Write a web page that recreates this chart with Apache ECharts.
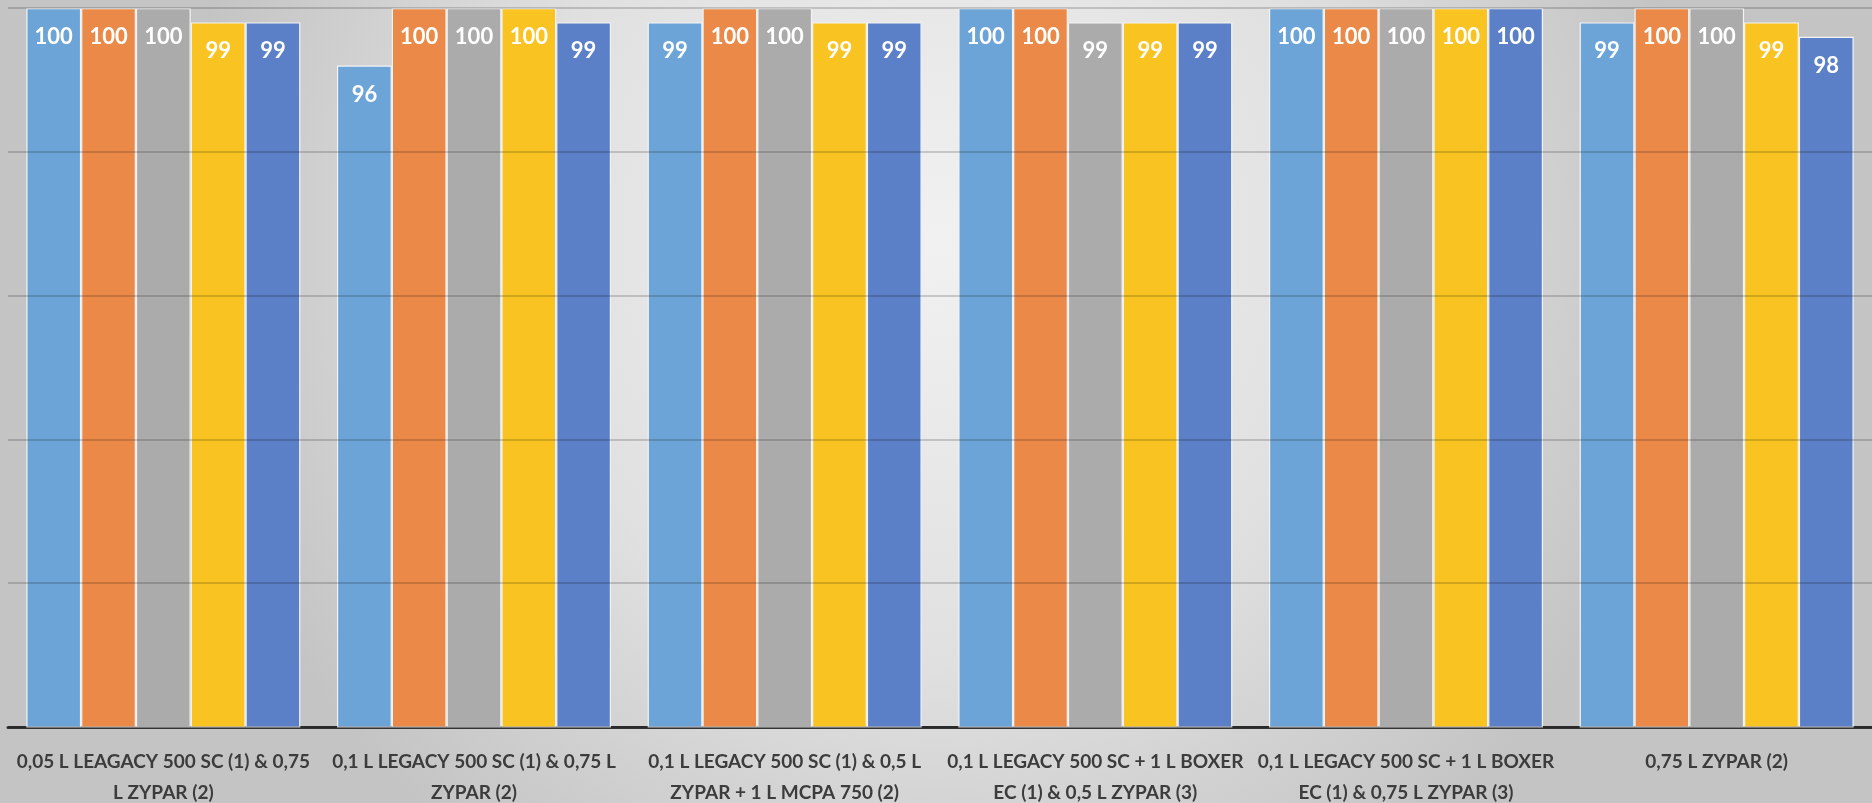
<!DOCTYPE html>
<html>
<head>
<meta charset="utf-8">
<script src="https://cdn.jsdelivr.net/npm/echarts@6/dist/echarts.min.js"></script>
<style>
html,body{margin:0;padding:0;width:1872px;height:803px;overflow:hidden;}
#chart{width:1872px;height:803px;}
</style>
</head>
<body>
<div id="chart"></div>
<script>
const categories = [
  "0,05 L LEAGACY 500 SC (1) & 0,75\nL ZYPAR (2)",
  "0,1 L LEGACY 500 SC (1) & 0,75 L\nZYPAR (2)",
  "0,1 L LEGACY 500 SC (1) & 0,5 L\nZYPAR + 1 L MCPA 750 (2)",
  "0,1 L LEGACY 500 SC + 1 L BOXER\nEC (1) & 0,5 L ZYPAR (3)",
  "0,1 L LEGACY 500 SC + 1 L BOXER\nEC (1) & 0,75 L ZYPAR (3)",
  "0,75 L ZYPAR (2)"
];
const seriesNames = ["Series 1", "Series 2", "Series 3", "Series 4", "Series 5"];
const series1 = [100, 96, 99, 100, 100, 99];
const series2 = [100, 100, 100, 100, 100, 100];
const series3 = [100, 100, 100, 99, 100, 100];
const series4 = [99, 100, 99, 99, 100, 99];
const series5 = [99, 99, 99, 99, 100, 98];
const colors = ["#6ca4d8", "#eb8a48", "#ababab", "#f9c322", "#5b80c7"];

const allValues = [series1, series2, series3, series4, series5];

const chart = echarts.init(document.getElementById('chart'));
chart.setOption({
  backgroundColor: {
    type: 'radial', x: 0.5, y: 0.3, r: 0.95,
    colorStops: [
      {offset: 0, color: '#f1f1f1'},
      {offset: 0.55, color: '#e0e0e0'},
      {offset: 1, color: '#c4c4c4'}
    ]
  },
  animation: false,
  grid: {left: 8, right: 0, top: 8, bottom: 76, containLabel: false, outerBoundsMode: 'none'},
  xAxis: {
    type: 'category',
    data: categories,
    axisLine: {show: true, lineStyle: {color: '#333333', width: 3}},
    axisTick: {show: false},
    axisLabel: {
      interval: 0,
      margin: 19,
      color: '#3c3c3c',
      fontFamily: 'Lato, "Liberation Sans", sans-serif',
      fontWeight: 'bold',
      fontSize: 19,
      lineHeight: 31
    }
  },
  yAxis: {
    type: 'value',
    min: 50, max: 100, interval: 10,
    z: 3,
    axisLine: {show: false},
    axisTick: {show: false},
    axisLabel: {show: false},
    splitLine: {show: true, lineStyle: {color: 'rgba(0,0,0,0.22)', width: 1.5}}
  },
  series: allValues.map((vals, i) => ({
    name: seriesNames[i],
    type: 'bar',
    data: vals,
    barGap: '0%',
    barCategoryGap: '11.8%',
    itemStyle: {color: colors[i], borderColor: '#f3f3f3', borderWidth: 1.2},
    label: {
      show: true,
      position: 'insideTop',
      distance: 17,
      color: '#ffffff',
      fontFamily: 'Lato, "Open Sans", sans-serif',
      fontWeight: 'bold',
      fontSize: 22,
      lineHeight: 24
    }
  }))
});
</script>
</body>
</html>
